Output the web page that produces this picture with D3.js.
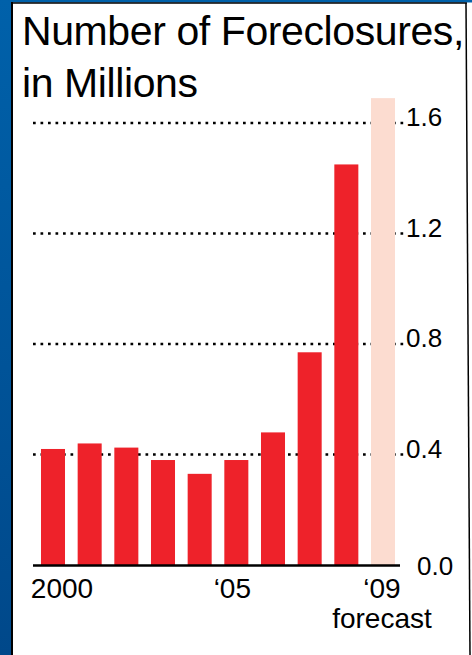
<!DOCTYPE html>
<html>
<head>
<meta charset="utf-8">
<title>Number of Foreclosures</title>
<style>
body { margin: 0; background: #fff; }
svg { display: block; font-family: "Liberation Sans", Arial, sans-serif; }
</style>
</head>
<body>
<script src="https://cdnjs.cloudflare.com/ajax/libs/d3/7.8.5/d3.min.js"></script>
<script>
// data (millions)
var years = ['2000','2001','2002','2003','2004','2005','2006','2007','2008','2009'];
var values = [0.42, 0.44, 0.425, 0.38, 0.33, 0.38, 0.48, 0.77, 1.45, 1.69];
var isForecast = [false, false, false, false, false, false, false, false, false, true];
var yTicks = [0, 0.4, 0.8, 1.2, 1.6];
var xTickYears = ['2000', '2005', '2009'];
var xTickLabels = ['2000', '\u201805', '\u201809'];
var titleLines = ['Number of Foreclosures,', 'in Millions'];

var W = 472, H = 655;
var svg = d3.select('body').append('svg')
	.attr('width', W)
	.attr('height', H);

// blue frame
var grad = svg.append('defs').append('linearGradient')
	.attr('id', 'frame').attr('x1', 0).attr('y1', 0).attr('x2', 0).attr('y2', 1);
grad.append('stop').attr('offset', 0).attr('stop-color', '#0061aa');
grad.append('stop').attr('offset', 1).attr('stop-color', '#00488a');

svg.append('rect').attr('width', W).attr('height', H).attr('fill', 'url(#frame)');
svg.append('rect').attr('x', 12).attr('y', 2.5).attr('width', W - 12).attr('height', H).attr('fill', '#fff');
svg.append('line').attr('x1', 12).attr('x2', 12).attr('y1', 2).attr('y2', H)
	.attr('stroke', '#000').attr('stroke-width', 2);
svg.append('line').attr('x1', 11).attr('x2', 467).attr('y1', 3).attr('y2', 3)
	.attr('stroke', '#000').attr('stroke-width', 1.5);
svg.append('line').attr('x1', 466).attr('x2', 470).attr('y1', 3).attr('y2', H)
	.attr('stroke', '#000').attr('stroke-width', 1.5);

// title
svg.selectAll('text.title').data(titleLines).enter().append('text')
	.attr('class', 'title')
	.attr('x', 22)
	.attr('y', function(d, i) { return 45 + i * 52; })
	.attr('font-size', 41)
	.attr('letter-spacing', -0.4)
	.attr('fill', '#000')
	.text(function(d) { return d; });

var x = d3.scaleBand().domain(years).range([33, 403]).paddingInner(0.345).paddingOuter(0.218);
var y = d3.scaleLinear().domain([0, 1.6]).range([565, 123]);

// dotted grid
svg.selectAll('line.grid').data(yTicks.filter(function(d) { return d > 0; })).enter().append('line')
	.attr('class', 'grid')
	.attr('x1', 33).attr('x2', 405)
	.attr('y1', function(d) { return y(d); })
	.attr('y2', function(d) { return y(d); })
	.attr('stroke', '#000')
	.attr('stroke-width', 2.7)
	.attr('stroke-dasharray', '2.7 4.8');

// bars
svg.selectAll('rect.bar').data(values).enter().append('rect')
	.attr('class', 'bar')
	.attr('x', function(d, i) { return x(years[i]); })
	.attr('width', x.bandwidth())
	.attr('y', function(d) { return y(d); })
	.attr('height', function(d) { return y(0) - y(d); })
	.attr('fill', function(d, i) { return isForecast[i] ? '#fcdcd0' : '#ee222a'; });

// y axis on the right
var yAxis = svg.append('g')
	.attr('transform', 'translate(406,0)')
	.call(d3.axisRight(y).tickValues(yTicks).tickSize(0).tickPadding(0).tickFormat(d3.format('.1f')));
yAxis.select('.domain').remove();
yAxis.attr('font-family', null).attr('font-size', 26);
yAxis.selectAll('text')
	.attr('fill', '#000')
	.attr('x', function(d) { return d === 0 ? 11 : 0; })
	.attr('dy', function(d) { return d === 0 ? 9 : 2.5; });

// x axis
var xShift = { '2000': 9, '2005': -4, '2009': -1 };
var xAxis = svg.append('g')
	.attr('transform', 'translate(0,' + y(0) + ')')
	.call(d3.axisBottom(x).tickValues(xTickYears).tickSize(0).tickSizeOuter(0)
		.tickFormat(function(d, i) { return xTickLabels[i]; }));
xAxis.attr('font-family', null).attr('font-size', 28);
xAxis.select('.domain').attr('stroke', '#000').attr('stroke-width', 2.7)
	.attr('d', 'M33,0.5H400');
xAxis.selectAll('text')
	.attr('fill', '#000')
	.attr('y', 0)
	.attr('dy', 33)
	.attr('dx', function(d) { return xShift[d]; });

svg.append('text')
	.attr('x', x('2009') + x.bandwidth() / 2 - 1)
	.attr('y', 628)
	.attr('text-anchor', 'middle')
	.attr('font-size', 28)
	.attr('fill', '#000')
	.text('forecast');
</script>
</body>
</html>
